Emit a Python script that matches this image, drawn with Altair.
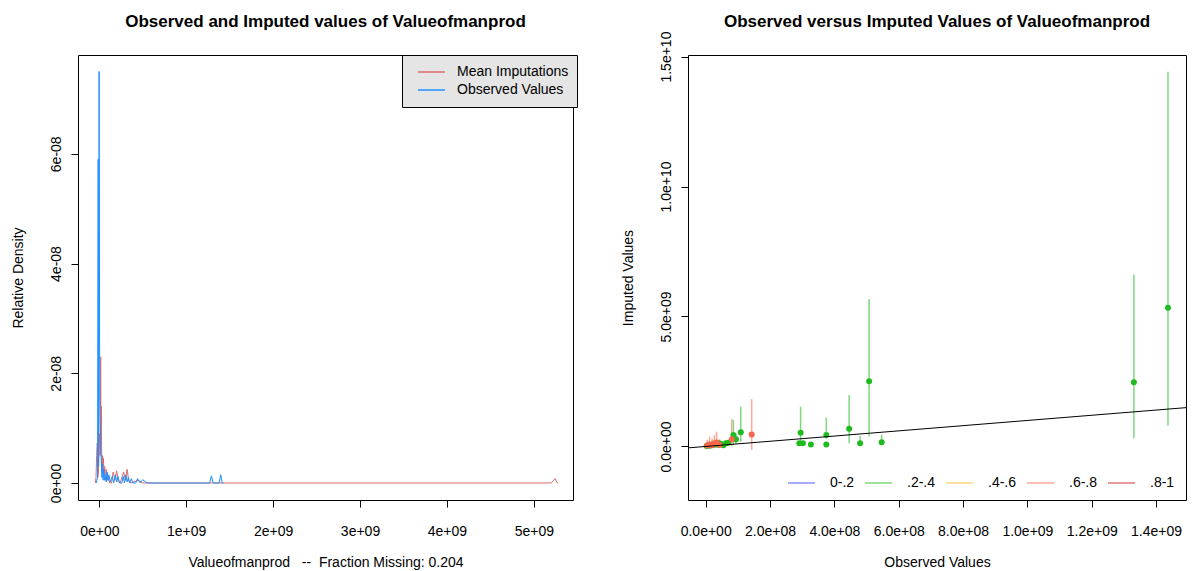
import altair as alt
import pandas as pd

FONT = "Liberation Sans"

# ---------------- Left panel: density curves ----------------
imp_x = [-4.5e7, -3.8e7, -3.0e7, -2.3e7, -1.8e7, -1.0e7, 0.5e7, 1.0e7, 1.6e7, 2.0e7,
         2.3e7, 2.8e7, 3.5e7, 4.2e7, 4.8e7, 5.5e7, 6.2e7, 7.0e7, 8.0e7, 9.0e7,
         1.0e8, 1.2e8, 1.4e8, 1.6e8, 1.8e8, 2.0e8, 2.2e8, 2.4e8, 2.8e8, 3.0e8,
         3.2e8, 3.4e8, 3.6e8, 4.5e8, 5.0e8, 5.2e9, 5.225e9, 5.245e9, 5.265e9, 5.28e9]
imp_y = [0.0, 0.1e-8, 0.5e-8, 0.73e-8, 0.1e-8, 0.2e-8, 0.9e-8, 0.5e-8, 2.3e-8, 0.8e-8,
         1.4e-8, 0.3e-8, 0.5e-8, 0.2e-8, 0.45e-8, 0.15e-8, 0.3e-8, 0.05e-8, 0.25e-8, 0.05e-8,
         0.1e-8, 0.0, 0.0, 0.2e-8, 0.05e-8, 0.22e-8, 0.02e-8, 0.0, 0.2e-8, 0.05e-8,
         0.25e-8, 0.03e-8, 0.0, 0.05e-8, 0.0, 0.0, 0.04e-8, 0.08e-8, 0.01e-8, 0.0]

obs_x = [-3.5e7, -2.0e7, -1.3e7, -0.9e7, -0.2e7, 0.5e7, 1.0e7, 1.6e7, 2.2e7, 3.0e7,
         3.6e7, 4.4e7, 5.2e7, 6.0e7, 7.0e7, 8.0e7, 9.0e7, 1.0e8, 1.1e8, 1.25e8,
         1.5e8, 1.65e8, 1.85e8, 2.0e8, 2.15e8, 2.35e8, 2.6e8, 2.75e8, 2.9e8, 3.05e8,
         3.2e8, 3.35e8, 3.5e8, 3.7e8, 3.85e8, 4.2e8, 4.4e8, 4.7e8, 5.0e8, 5.5e8,
         1.27e9, 1.29e9, 1.31e9, 1.38e9, 1.397e9, 1.415e9, 1.43e9]
obs_y = [0.0, 0.1e-8, 5.9e-8, 0.3e-8, 7.5e-8, 1.5e-8, 1.0e-8, 0.6e-8, 0.45e-8, 0.1e-8,
         0.35e-8, 0.05e-8, 0.25e-8, 0.05e-8, 0.15e-8, 0.02e-8, 0.2e-8, 0.05e-8, 0.15e-8, 0.02e-8,
         0.12e-8, 0.0, 0.15e-8, 0.02e-8, 0.12e-8, 0.0, 0.0, 0.12e-8, 0.0, 0.15e-8,
         0.02e-8, 0.1e-8, 0.0, 0.08e-8, 0.0, 0.0, 0.08e-8, 0.0, 0.06e-8, 0.0,
         0.0, 0.13e-8, 0.0, 0.0, 0.15e-8, 0.0, 0.0]

dens_series = ["Mean Imputations", "Observed Values"]
dens_colors = ["#E06A6A", "#1E90FF"]

left_x_ticks = [0, 1e9, 2e9, 3e9, 4e9, 5e9]
left_x_labels = ["0e+00", "1e+09", "2e+09", "3e+09", "4e+09", "5e+09"]
left_y_ticks = [0, 2e-8, 4e-8, 6e-8]
left_y_labels = ["0e+00", "2e-08", "4e-08", "6e-08"]
left_x_domain = [-2.45e8, 5.451e9]
left_y_domain = [-0.31e-8, 7.80e-8]

# ---------------- Right panel: observed vs imputed ----------------
groups = ["0-.2", ".2-.4", ".4-.6", ".6-.8", ".8-1"]
line_colors = ["#8C8CFF", "#7ED87E", "#FFD480", "#FFA898", "#E07A7A"]
point_colors = ["#3333FF", "#1FBA1F", "#FFA500", "#F9674D", "#E02020"]

ov_obs = [1.331e9, 1.437e9, 5.08e8, 4.46e8, 3.75e8, 3.75e8, 2.95e8, 2.91e8, 3.02e8, 3.27e8,
          4.80e8, 5.47e8, 1.09e8, 0.86e8, 0.94e8,
          0.3e7, 0.8e7, 1.3e7, 1.8e7, 2.4e7, 3.0e7, 3.6e7, 4.2e7, 4.8e7, 5.5e7, 6.3e7, 7.0e7,
          1.43e8, 0.81e8, 0.5e7, 1.2e7, 2.0e7, 2.7e7, 3.4e7, 4.3e7]
ov_imp = [2.47e9, 5.34e9, 2.51e9, 0.68e9, 0.44e9, 0.08e9, 0.53e9, 0.12e9, 0.12e9, 0.08e9,
          0.12e9, 0.16e9, 0.55e9, 0.44e9, 0.28e9,
          0.02e9, 0.05e9, 0.03e9, 0.08e9, 0.06e9, 0.10e9, 0.07e9, 0.12e9, 0.09e9, 0.05e9, 0.12e9, 0.14e9,
          0.46e9, 0.28e9, 0.04e9, 0.08e9, 0.05e9, 0.12e9, 0.15e9, 0.06e9]
ov_lo = [0.32e9, 0.80e9, 0.38e9, 0.12e9, 0.30e9, 0.02e9, 0.12e9, 0.06e9, 0.06e9, 0.03e9,
         0.02e9, 0.05e9, 0.18e9, 0.05e9, 0.10e9,
         -0.03e9, 0.0, -0.02e9, 0.02e9, 0.0, 0.03e9, 0.0, 0.04e9, 0.02e9, 0.0, 0.04e9, 0.06e9,
         -0.13e9, 0.02e9, 0.0, 0.0, 0.0, 0.02e9, 0.06e9, 0.0]
ov_hi = [6.62e9, 14.42e9, 5.67e9, 1.98e9, 1.11e9, 0.16e9, 1.53e9, 0.18e9, 0.18e9, 0.14e9,
         0.40e9, 0.44e9, 1.53e9, 1.02e9, 0.50e9,
         0.08e9, 0.12e9, 0.10e9, 0.16e9, 0.14e9, 0.20e9, 0.15e9, 0.22e9, 0.18e9, 0.12e9, 0.24e9, 0.26e9,
         1.82e9, 1.05e9, 0.25e9, 0.38e9, 0.30e9, 0.45e9, 0.57e9, 0.28e9]
ov_grp = [".2-.4"] * 27 + [".6-.8"] * 8

right_x_ticks = [0, 2e8, 4e8, 6e8, 8e8, 1e9, 1.2e9, 1.4e9]
right_x_labels = ["0.0e+00", "2.0e+08", "4.0e+08", "6.0e+08", "8.0e+08", "1.0e+09", "1.2e+09", "1.4e+09"]
right_y_ticks = [0, 5e9, 1e10, 1.5e10]
right_y_labels = ["0.0e+00", "5.0e+09", "1.0e+10", "1.5e+10"]
right_x_domain = [-0.55e8, 1.493e9]
right_y_domain = [-2.06e9, 15.06e9]


def label_expr(vals, labels):
    expr = "''"
    for v, l in reversed(list(zip(vals, labels))):
        expr = f"abs(datum.value - ({v!r})) < {abs(vals[-1]) * 1e-6!r} ? '{l}' : ({expr})"
    return expr


dens = pd.DataFrame({
    "x": imp_x + obs_x,
    "y": imp_y + obs_y,
    "series": [dens_series[0]] * len(imp_x) + [dens_series[1]] * len(obs_x),
    "ord": list(range(len(imp_x))) + list(range(len(obs_x))),
})

W_L, W_R, H = 495, 498, 445

lx = alt.X("x:Q", scale=alt.Scale(domain=left_x_domain, nice=False, zero=False),
           axis=alt.Axis(values=left_x_ticks, labelExpr=label_expr(left_x_ticks, left_x_labels),
                         title="Valueofmanprod\u00a0\u00a0\u00a0--\u00a0\u00a0Fraction Missing: 0.204",
                         titleY=62, titleBaseline="middle", labelPadding=17))
ly = alt.Y("y:Q", scale=alt.Scale(domain=left_y_domain, nice=False, zero=False),
           axis=alt.Axis(values=left_y_ticks, labelExpr=label_expr(left_y_ticks, left_y_labels),
                         labelAngle=270, labelAlign="center", labelBaseline="bottom", labelPadding=8,
                         title="Relative Density", titleX=-60, titleY=H / 2, titleAngle=270,
                         titleAlign="center", titleBaseline="middle"))
lcolor = alt.Color("series:N", scale=alt.Scale(domain=dens_series, range=dens_colors),
                   legend=alt.Legend(orient="none", legendX=324, legendY=0, title=None,
                                     symbolType="stroke", symbolSize=729, symbolStrokeWidth=1.5,
                                     labelFontSize=14, labelFont=FONT, labelColor="black",
                                     fillColor="#E5E5E5", strokeColor="black", padding=8,
                                     clipHeight=18, rowPadding=0, labelOffset=11, symbolOffset=7))

base_l = alt.Chart(dens)
red = base_l.transform_filter(alt.datum.series == dens_series[0]).mark_line(strokeWidth=1, clip=True).encode(
    x=lx, y=ly, color=lcolor, order="ord:Q")
blue = base_l.transform_filter(alt.datum.series == dens_series[1]).mark_line(strokeWidth=1, clip=True).encode(
    x=lx, y=ly, color=lcolor, order="ord:Q")
left = alt.layer(red, blue).properties(
    width=W_L, height=H,
    title=alt.TitleParams("Observed and Imputed values of Valueofmanprod", fontSize=17,
                          fontWeight="bold", font=FONT, offset=24, anchor="middle", color="black"))

ov = pd.DataFrame({"obs": ov_obs, "imp": ov_imp, "lo": ov_lo, "hi": ov_hi, "grp": ov_grp})
refline = pd.DataFrame({"x": right_x_domain, "y": right_x_domain})

rx_scale = alt.Scale(domain=right_x_domain, nice=False, zero=False)
ry_scale = alt.Scale(domain=right_y_domain, nice=False, zero=False)
rx = alt.X("obs:Q", scale=rx_scale,
           axis=alt.Axis(values=right_x_ticks, labelExpr=label_expr(right_x_ticks, right_x_labels),
                         title="Observed Values", titleY=62, titleBaseline="middle", labelPadding=17))
ry_axis = alt.Axis(values=right_y_ticks, labelExpr=label_expr(right_y_ticks, right_y_labels),
                   labelAngle=270, labelAlign="center", labelBaseline="bottom", labelPadding=8,
                   title="Imputed Values", titleX=-60, titleY=H / 2, titleAngle=270,
                   titleAlign="center", titleBaseline="middle")

rules = alt.Chart(ov).mark_rule(strokeWidth=1.5, clip=True).encode(
    x=rx,
    y=alt.Y("lo:Q", scale=ry_scale, axis=ry_axis),
    y2="hi:Q",
    color=alt.Color("grp:N", scale=alt.Scale(domain=groups, range=line_colors),
                    legend=alt.Legend(orient="none", direction="horizontal", legendX=99, legendY=421,
                                      title=None, symbolType="stroke", symbolSize=729,
                                      symbolStrokeWidth=1.5, labelFontSize=14, labelFont=FONT,
                                      labelColor="black", labelOffset=14, columnPadding=9,
                                      clipHeight=14, padding=0)))
points = alt.Chart(ov).mark_circle(size=36, opacity=1, clip=True).encode(
    x=alt.X("obs:Q", scale=rx_scale),
    y=alt.Y("imp:Q", scale=ry_scale),
    fill=alt.Fill("grp:N", scale=alt.Scale(domain=groups, range=point_colors), legend=None))
line = alt.Chart(refline).mark_line(color="black", strokeWidth=1, clip=True).encode(
    x=alt.X("x:Q", scale=rx_scale), y=alt.Y("y:Q", scale=ry_scale))

right = alt.layer(rules, points, line).properties(
    width=W_R, height=H,
    title=alt.TitleParams("Observed versus Imputed Values of Valueofmanprod", fontSize=17,
                          fontWeight="bold", font=FONT, offset=0, anchor="middle", color="black"))

chart = alt.hconcat(left, right, spacing=115, bounds="flush").resolve_scale(
    color="independent", fill="independent"
).resolve_legend(color="independent", fill="independent").properties(
    padding={"left": 10, "top": 12, "right": 2, "bottom": 0},
).configure_view(stroke="black", strokeWidth=1).configure_axis(
    labelFont=FONT, titleFont=FONT, labelFontSize=14, titleFontSize=14,
    labelColor="black", titleColor="black", titleFontWeight="normal",
    grid=False, domain=False, tickColor="black", tickSize=7, tickWidth=1,
).configure_legend(labelFont=FONT)

chart.save("out.html", embed_options={"renderer": "svg", "actions": False})
